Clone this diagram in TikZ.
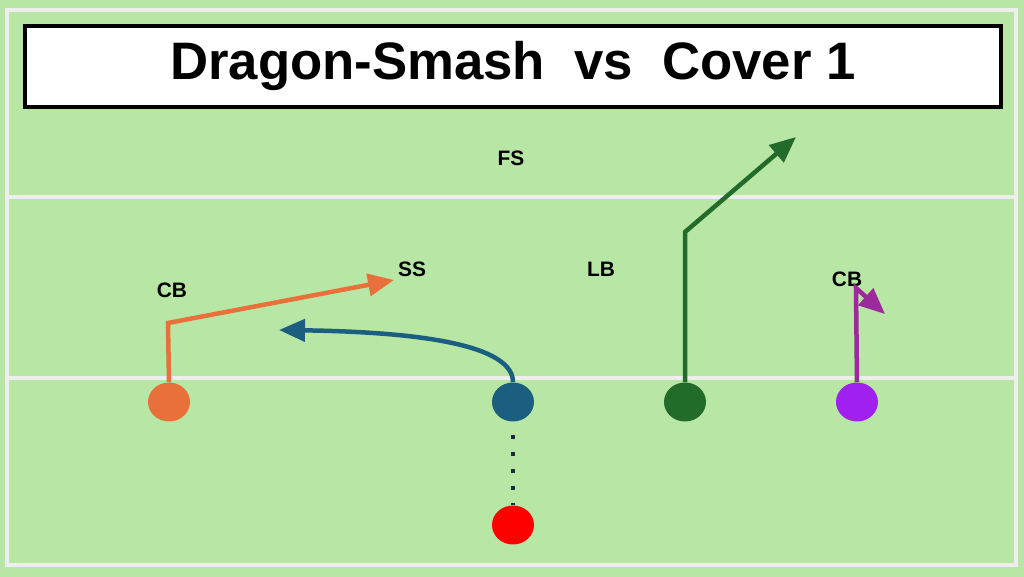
\documentclass[tikz,border=0pt]{standalone}
\usepackage{fontspec}
\setmainfont{Liberation Sans}
\usetikzlibrary{arrows.meta,shapes.geometric}
\definecolor{turf}{HTML}{B8E6A4}
\definecolor{chalk}{HTML}{EEEEEE}
\definecolor{cbleft}{HTML}{E8703A}
\definecolor{center}{HTML}{1B5E80}
\definecolor{lbgreen}{HTML}{236B2B}
\definecolor{cbright}{HTML}{A020F0}
\definecolor{cbroute}{HTML}{9C2A9C}
\definecolor{snap}{HTML}{FF0000}
\definecolor{dots}{HTML}{1B2A3F}
\tikzset{
  player/.style={ellipse, minimum width=8.4mm, minimum height=7.8mm, inner sep=0pt},
  route/.style={line width=0.9mm, -{Triangle[length=5.2mm, width=4.4mm]}},
  tag/.style={font=\bfseries\fontsize{11.9}{12}\selectfont},
}

\begin{document}
\begin{tikzpicture}[x=0.2mm, y=-0.2mm]
  %%%%% FIELD %%%%%
  \fill[turf] (0,0) rectangle (1024,577);
  \draw[chalk, line width=0.8mm] (7,10) rectangle (1016,565);
  \draw[chalk, line width=0.8mm] (7,197) -- (1016,197);
  \draw[chalk, line width=0.8mm] (7,378) -- (1016,378);

  \node[draw=black, line width=0.8mm, fill=white, minimum width=195.2mm, minimum height=16.2mm, inner sep=0pt] (title) at (513,67) {};
  \node (titletext) at (513,66) {\bfseries\fontsize{30}{32}\selectfont Dragon-Smash\ \ vs\ \ Cover 1};

  %%%%% DEFENSE %%%%%
  \node[tag] (fs) at (511,158) {FS};
  \node[tag] (ss) at (412,269) {SS};
  \node[tag] (lb) at (601,269) {LB};
  \node[tag] (cbl) at (172,290) {CB};
  \node[tag] (cbr) at (847,279) {CB};

  %%%%% OFFENSE %%%%%
  \node[player, fill=cbleft] (wr) at (169,402) {};
  \node[player, fill=center] (c) at (513,402) {};
  \node[player, fill=lbgreen] (te) at (685,402) {};
  \node[player, fill=cbright] (sl) at (857,402) {};
  \node[player, fill=snap] (qb) at (513,525) {};

  \coordinate (wrbreak) at (168,323);
  \coordinate (wrend) at (394,280);
  \coordinate (cend) at (279,330);
  \coordinate (tebreak) at (685,232);
  \coordinate (teend) at (796,137);
  \coordinate (slbreak) at (856,288);
  \coordinate (slend) at (885,314);

  \draw[route, cbleft] (wr.north) -- (wrbreak) -- (wrend);
  \draw[route, center] (c.north) .. controls (513,345) and (420,332) .. (cend);
  \draw[route, lbgreen] (te.north) -- (tebreak) -- (teend);
  \draw[route, cbroute] (sl.north) -- (slbreak) -- (slend);
  \draw[dots, line width=0.85mm, dash pattern=on 0.85mm off 2.55mm] (513,435) -- (qb.north);
\end{tikzpicture}
\end{document}
